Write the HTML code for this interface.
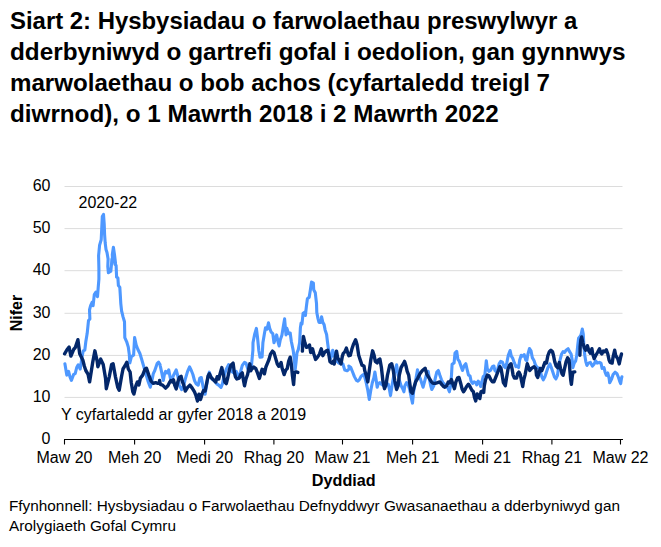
<!DOCTYPE html>
<html><head><meta charset="utf-8">
<style>
html,body{margin:0;padding:0;background:#fff;overflow:hidden;}
body{width:661px;height:547px;position:relative;overflow:hidden;font-family:"Liberation Sans",sans-serif;color:#000;}
.title{position:absolute;left:10.3px;top:6.4px;font-size:23.5px;font-weight:bold;line-height:31px;white-space:nowrap;}
.t{position:absolute;font-size:16px;line-height:18px;white-space:nowrap;}
.yl{position:absolute;font-size:16px;line-height:18px;width:40px;text-align:right;left:10.5px;}
.xl{position:absolute;font-size:16px;line-height:18px;width:80px;text-align:center;top:449px;}
svg{position:absolute;left:0;top:0;}
</style></head><body>
<div class="title"><div style="transform:scaleX(1.0171);transform-origin:0 0">Siart 2: Hysbysiadau o farwolaethau preswylwyr a</div><div style="transform:scaleX(1.0338);transform-origin:0 0">dderbyniwyd o gartrefi gofal i oedolion, gan gynnwys</div><div style="transform:scaleX(1.0261);transform-origin:0 0">marwolaethau o bob achos (cyfartaledd treigl 7</div><div style="transform:scaleX(1.031);transform-origin:0 0">diwrnod), o 1 Mawrth 2018 i 2 Mawrth 2022</div></div>
<svg width="661" height="547" viewBox="0 0 661 547">
<g stroke="#dcdcdc" stroke-width="1" fill="none">
<path d="M64.5 186.5H622.5M64.5 228.6H622.5M64.5 270.7H622.5M64.5 313.3H622.5M64.5 355.4H622.5M64.5 397.4H622.5"/>
</g>
<g stroke="#000" stroke-width="1.1" fill="none">
<path d="M64 439.5H623M64.5 439.5V444.6M134.6 439.5V444.6M204.6 439.5V444.6M273.9 439.5V444.6M342.5 439.5V444.6M412.6 439.5V444.6M482.6 439.5V444.6M551.9 439.5V444.6M620.5 439.5V444.6"/>
</g>
<g id="lines" fill="none" stroke-linejoin="round" stroke-linecap="round">
<path stroke="#4e98ff" stroke-width="3.1" d="M64.9 363.7 L66.8 375.1 L68.6 371.3 L69.9 376.6 L71.4 380.4 L73.7 374.3 L75.2 373.6 L76.7 367.5 L78.2 364.8 L80.2 369.0 L82.1 356.7 L83.2 350.8 L84.8 350.1 L85.8 341.8 L87.2 333.3 L88.5 320.6 L89.9 319.0 L89.5 310.0 L90.6 305.7 L92.3 302.0 L93.1 305.7 L94.3 294.6 L95.9 292.1 L97.5 296.7 L98.2 287.7 L98.9 279.2 L98.9 268.6 L98.6 255.7 L99.6 245.1 L101.2 239.8 L101.7 229.2 L102.3 216.5 L103.5 214.4 L104.2 223.9 L104.6 234.5 L105.2 243.0 L106.0 249.4 L107.0 252.5 L108.1 258.9 L107.8 266.5 L108.4 272.8 L110.8 271.3 L111.6 263.3 L111.9 259.1 L112.7 262.2 L112.3 254.7 L113.4 247.2 L114.5 254.7 L115.5 263.1 L115.0 264.4 L116.1 265.4 L116.6 277.1 L117.9 278.1 L118.4 285.6 L119.8 287.2 L120.3 295.1 L120.8 303.6 L121.6 311.0 L122.4 314.2 L122.9 316.4 L124.5 321.7 L124.8 337.6 L126.7 341.8 L128.3 347.1 L129.3 354.5 L129.8 363.0 L131.4 356.7 L133.6 355.1 L134.6 337.6 L136.2 345.0 L137.8 349.2 L139.9 353.5 L141.5 358.8 L148.0 381.1 L150.3 387.2 L151.8 381.1 L153.3 373.6 L154.8 370.5 L157.1 363.7 L158.6 362.2 L160.0 364.5 L160.3 366.1 L161.8 372.9 L163.3 380.5 L164.4 374.5 L165.6 371.4 L167.1 372.9 L168.7 369.9 L170.2 377.5 L171.4 381.3 L173.2 376.0 L174.7 372.9 L176.2 369.9 L177.8 376.0 L179.3 385.1 L181.6 389.6 L183.8 385.1 L185.3 379.0 L187.6 371.4 L189.6 366.9 L191.4 370.7 L192.9 374.5 L194.5 380.5 L196.0 383.6 L198.2 385.1 L199.8 378.2 L201.3 377.5 L202.8 385.1 L204.3 392.7 L205.1 394.2 L206.6 385.1 L208.1 376.0 L209.3 372.2 L211.9 379.0 L214.2 380.5 L216.5 383.6 L218.7 385.1 L221.0 387.4 L222.5 383.6 L224.0 376.0 L226.3 369.1 L228.6 364.6 L230.1 367.6 L231.6 371.4 L233.9 372.9 L236.2 371.4 L237.7 375.2 L239.2 376.0 L240.7 371.4 L242.3 365.3 L244.5 362.3 L246.0 363.1 L247.6 368.4 L249.1 371.4 L251.5 365.3 L252.9 350.2 L253.0 342.8 L254.6 334.5 L256.4 328.4 L257.6 338.3 L258.8 350.4 L260.0 357.3 L262.1 357.0 L262.9 342.8 L264.4 333.7 L265.5 327.7 L267.0 329.2 L268.5 322.8 L269.7 328.4 L271.2 332.2 L272.8 333.7 L274.0 342.8 L275.5 338.3 L276.6 334.9 L278.1 342.1 L279.1 345.9 L280.3 339.8 L281.9 335.3 L283.4 326.1 L284.6 318.9 L286.0 334.9 L286.9 328.4 L288.7 333.7 L290.2 333.0 L291.3 341.3 L293.2 350.4 L294.3 359.5 L295.2 369.3 L296.0 362.5 L297.0 352.6 L298.3 349.6 L299.6 342.8 L300.4 327.7 L301.1 323.1 L302.0 323.9 L303.1 313.2 L304.2 312.5 L305.4 315.5 L306.4 306.4 L307.4 298.8 L309.2 297.3 L310.4 289.7 L311.5 282.1 L313.4 283.2 L313.7 289.7 L315.3 292.8 L316.5 303.4 L316.8 312.5 L318.0 318.6 L319.0 322.4 L320.6 322.4 L321.6 316.7 L322.8 322.4 L324.1 324.6 L325.1 329.9 L326.6 334.5 L327.4 341.3 L328.6 350.4 L329.2 353.4 L330.4 358.7 L331.6 356.4 L332.7 350.3 L334.2 354.9 L336.5 361.0 L338.8 363.2 L341.0 362.5 L342.9 364.0 L344.8 370.1 L347.1 370.8 L349.4 368.6 L348.8 366.0 L350.8 367.5 L352.6 372.0 L354.4 376.6 L356.4 380.4 L357.9 381.1 L359.4 379.6 L360.9 376.6 L362.5 375.1 L364.0 374.3 L366.2 382.7 L367.8 390.3 L369.3 399.4 L370.8 390.3 L372.3 382.7 L373.8 378.1 L374.9 372.0 L376.1 379.6 L377.2 387.2 L378.4 383.4 L379.9 382.7 L381.4 384.2 L383.7 385.7 L386.0 385.7 L388.2 384.2 L389.3 388.7 L390.5 395.6 L392.0 385.7 L393.6 376.6 L395.1 370.5 L396.6 364.8 L398.1 375.1 L399.6 381.1 L401.1 385.7 L402.7 388.7 L403.9 391.8 L404.9 385.7 L406.5 382.7 L408.0 384.2 L409.5 388.7 L411.0 396.3 L412.5 403.1 L413.6 391.8 L414.8 385.7 L416.3 376.6 L417.5 369.8 L418.6 375.1 L420.1 378.1 L421.6 382.7 L423.1 387.2 L424.7 381.1 L426.2 375.1 L428.2 371.3 L429.2 378.1 L430.7 385.7 L431.8 389.5 L433.8 385.7 L435.3 378.1 L436.8 372.0 L438.3 370.5 L439.8 375.1 L441.4 379.6 L442.9 382.7 L444.4 384.2 L445.3 387.2 L447.6 387.2 L449.4 391.8 L450.6 385.7 L451.5 375.1 L452.1 364.2 L454.1 362.9 L455.0 353.1 L456.7 351.3 L457.9 359.4 L459.4 361.4 L460.9 366.0 L462.5 370.5 L464.0 366.0 L465.8 363.7 L467.0 369.0 L468.5 375.1 L470.0 375.8 L471.1 381.1 L472.6 383.4 L474.1 381.9 L475.7 382.7 L476.7 384.9 L478.2 381.1 L479.8 383.4 L480.7 386.5 L481.7 382.7 L483.2 376.6 L484.8 375.1 L485.5 369.0 L486.3 360.7 L487.3 369.0 L488.9 371.3 L490.4 370.5 L492.4 366.7 L493.9 366.0 L494.9 370.5 L496.4 372.0 L497.7 369.0 L499.2 363.7 L500.7 361.4 L502.5 362.2 L503.7 366.0 L505.3 367.5 L506.8 362.9 L508.3 355.3 L510.1 350.5 L511.3 356.1 L512.8 358.4 L514.4 362.9 L515.9 366.7 L517.4 366.0 L518.6 367.5 L519.7 359.9 L521.2 355.3 L522.7 356.1 L524.2 354.6 L525.7 359.9 L526.8 360.7 L528.0 353.8 L529.5 348.5 L531.0 350.8 L532.3 357.6 L534.1 360.7 L535.3 364.5 L537.1 367.5 L538.0 367.7 L539.6 368.4 L541.8 376.8 L543.3 379.8 L544.9 376.8 L546.4 372.2 L547.9 367.7 L549.9 363.9 L551.4 367.7 L552.9 372.2 L554.4 376.8 L555.9 379.0 L557.5 375.3 L558.5 367.7 L560.0 360.1 L561.6 354.0 L563.1 351.7 L564.6 352.5 L566.1 350.2 L568.1 348.7 L569.6 351.7 L571.1 354.0 L572.2 360.1 L572.9 367.7 L574.2 363.1 L575.7 360.8 L576.7 355.5 L577.8 344.9 L578.6 338.1 L579.8 336.6 L581.0 335.0 L582.3 329.0 L583.3 334.3 L583.9 346.4 L584.8 355.5 L585.8 361.6 L586.9 365.4 L588.4 363.1 L590.4 362.4 L592.4 366.1 L594.2 363.9 L595.7 360.8 L597.2 363.1 L599.5 362.4 L601.0 363.1 L602.1 368.4 L604.0 367.7 L605.1 372.2 L606.3 375.3 L607.8 373.0 L609.1 378.3 L609.7 382.8 L611.6 379.0 L613.1 374.5 L615.1 372.2 L616.9 373.7 L618.5 377.5 L619.7 381.3 L620.7 383.6 L621.5 378.3 L621.9 376.8"/>
<path stroke="#03276a" stroke-width="3.4" d="M64.6 353.8 L66.8 350.0 L69.1 347.0 L70.9 356.1 L73.7 349.3 L75.2 347.8 L77.9 339.7 L79.7 353.8 L82.8 359.9 L84.3 366.0 L85.8 370.5 L88.1 374.3 L89.6 381.9 L92.6 362.9 L94.9 350.8 L97.2 361.4 L97.9 366.7 L100.7 359.1 L103.2 364.5 L105.5 378.1 L106.3 388.7 L109.3 376.6 L111.6 364.5 L113.1 363.7 L115.4 376.6 L117.7 387.2 L119.2 390.3 L121.5 376.6 L123.0 369.0 L125.3 365.2 L126.8 362.2 L128.3 369.0 L130.1 372.0 L131.3 382.7 L132.8 391.8 L133.9 394.0 L135.9 385.7 L137.4 381.9 L138.9 384.9 L140.4 378.1 L142.7 375.1 L145.0 369.0 L146.5 368.2 L148.8 375.1 L151.0 381.1 L153.3 383.4 L155.6 382.7 L157.9 383.4 L160.0 382.7 L159.6 380.5 L160.3 384.3 L162.6 385.1 L164.1 386.6 L165.6 388.1 L167.9 385.8 L169.4 382.8 L170.9 380.5 L172.5 382.0 L173.5 379.8 L174.7 385.1 L176.2 388.9 L177.8 382.0 L179.3 377.5 L181.1 376.3 L182.3 381.3 L183.8 385.1 L185.3 391.1 L187.6 387.4 L189.9 385.1 L192.2 388.1 L194.5 391.9 L196.0 395.7 L197.5 401.0 L199.0 394.2 L199.8 394.9 L200.5 399.5 L202.3 393.4 L203.6 390.4 L205.1 391.1 L206.6 383.6 L208.1 376.0 L209.3 373.7 L211.1 377.5 L213.4 379.8 L215.7 382.0 L217.2 376.7 L218.7 379.0 L220.3 372.9 L221.8 367.6 L223.3 374.5 L224.8 382.0 L226.3 383.6 L227.8 377.5 L229.4 369.9 L230.9 365.3 L233.1 363.1 L234.2 371.4 L235.4 376.7 L236.9 379.0 L239.2 378.2 L240.7 374.5 L242.3 372.9 L243.5 380.5 L244.5 385.8 L246.0 379.0 L247.6 374.5 L248.8 368.4 L249.8 363.8 L250.9 370.7 L251.5 369.3 L253.8 367.0 L255.8 368.6 L257.6 373.1 L259.4 378.4 L260.9 373.1 L262.1 369.3 L263.7 370.1 L264.4 373.9 L265.9 367.0 L267.5 363.2 L269.0 359.5 L270.5 354.1 L272.5 351.1 L274.0 352.6 L275.5 357.9 L277.3 364.0 L278.8 366.3 L280.3 364.0 L281.1 362.5 L282.2 368.6 L284.1 374.6 L285.7 370.1 L287.2 368.6 L288.7 361.0 L290.2 357.2 L291.3 364.0 L292.5 376.1 L293.6 384.5 L294.5 372.4 L296.3 371.9 L297.8 372.4"/>
<path stroke="#03276a" stroke-width="3.4" d="M302.4 351.1 L302.8 342.8 L303.4 336.4 L304.9 342.8 L306.4 347.3 L308.4 346.6 L309.5 345.0 L310.7 352.6 L312.5 348.8 L313.7 353.4 L315.6 359.5 L317.5 357.2 L319.5 354.1 L321.3 348.8 L322.8 355.7 L324.4 352.6 L325.9 351.1 L327.7 350.3 L328.9 354.9 L330.0 361.7 L331.9 363.2 L333.5 361.0 L334.2 364.0 L335.4 356.4 L336.5 351.1 L337.7 357.9 L339.2 360.2 L341.0 364.0 L342.3 356.4 L343.3 353.4 L344.8 351.9 L346.4 348.1 L347.9 353.4 L348.9 355.7 L348.8 355.3 L350.3 355.3 L351.8 349.3 L353.3 344.7 L355.6 339.7 L357.1 344.7 L358.7 355.3 L360.2 359.9 L362.0 365.2 L364.0 366.0 L364.7 370.5 L366.2 375.1 L367.8 381.9 L369.3 370.5 L370.8 359.9 L372.6 350.8 L374.1 355.3 L375.3 361.4 L377.2 362.9 L378.4 359.9 L379.9 359.1 L381.4 367.5 L382.9 381.1 L384.5 388.7 L386.0 384.9 L387.5 375.1 L389.8 365.2 L391.7 363.7 L393.3 370.5 L394.8 381.1 L396.6 389.5 L398.1 385.7 L399.3 375.1 L401.1 367.5 L403.4 363.7 L404.6 361.4 L406.0 366.0 L407.2 371.3 L408.7 375.1 L409.9 384.2 L411.0 391.8 L412.5 393.3 L414.0 387.2 L415.6 381.9 L417.8 378.1 L420.1 373.6 L422.4 370.5 L425.1 368.2 L426.9 374.3 L429.2 378.1 L431.5 381.9 L433.0 383.4 L435.3 383.4 L437.6 382.7 L439.8 381.9 L442.1 384.9 L443.6 386.5 L444.6 387.2 L446.8 385.7 L448.3 381.9 L449.9 382.7 L451.4 379.6 L452.9 384.2 L454.4 388.7 L455.9 381.9 L457.5 378.1 L459.0 377.4 L460.5 382.7 L462.0 388.7 L463.5 391.8 L465.0 389.5 L466.6 386.5 L468.5 384.2 L470.3 387.2 L471.9 390.3 L473.4 391.8 L474.6 397.8 L475.7 400.9 L477.2 394.0 L478.7 396.3 L479.8 398.6 L481.0 391.8 L482.5 391.0 L483.7 392.5 L484.3 385.7 L485.5 379.6 L487.3 375.1 L488.9 375.8 L490.8 379.6 L492.4 381.9 L493.9 381.9 L495.4 378.1 L496.9 374.3 L498.4 370.5 L499.9 366.7 L501.0 368.2 L502.2 375.1 L503.4 382.7 L505.3 385.7 L506.5 378.1 L508.0 369.0 L509.5 365.2 L511.0 363.7 L512.1 369.0 L513.1 375.1 L514.4 378.1 L516.6 378.1 L517.7 373.6 L518.9 372.0 L520.4 375.1 L521.6 381.1 L522.7 386.5 L523.8 379.6 L525.0 375.1 L526.2 369.0 L527.3 363.7 L528.5 367.5 L529.8 370.5 L531.8 368.2 L534.1 366.7 L535.9 369.0 L536.5 375.3 L537.7 377.5 L539.2 372.2 L540.3 368.4 L541.8 370.7 L543.3 366.9 L544.9 362.4 L546.4 363.1 L547.9 355.5 L549.4 351.7 L550.9 350.2 L552.5 351.7 L553.5 355.5 L554.7 361.6 L556.2 366.1 L557.8 367.7 L559.3 362.4 L560.5 368.4 L562.0 373.7 L563.1 375.3 L564.6 368.4 L566.1 361.6 L567.6 357.8 L569.1 360.1 L569.9 370.7 L570.7 379.8 L571.4 384.4 L572.2 376.8 L572.9 372.2 L574.8 371.9"/>
<path stroke="#03276a" stroke-width="3.4" d="M579.9 355.2 L580.2 346.4 L580.8 340.3 L581.7 337.0 L582.8 342.6 L584.3 347.9 L585.8 350.2 L587.4 345.7 L588.9 351.0 L590.4 353.2 L591.9 348.7 L592.7 354.0 L594.2 358.6 L595.7 355.5 L597.5 352.5 L599.5 348.7 L600.6 352.5 L601.8 354.0 L603.3 351.0 L604.8 351.7 L606.3 349.8 L607.8 354.0 L609.1 360.1 L610.1 362.4 L612.1 363.1 L613.1 357.0 L614.7 350.2 L615.7 355.5 L617.7 358.6 L619.2 363.9 L620.7 357.0 L621.5 354.0"/>
</g>
</svg>
<div class="yl" style="top:176.8px">60</div>
<div class="yl" style="top:218.9px">50</div>
<div class="yl" style="top:261.0px">40</div>
<div class="yl" style="top:303.6px">30</div>
<div class="yl" style="top:345.7px">20</div>
<div class="yl" style="top:387.7px">10</div>
<div class="yl" style="top:429.8px">0</div>
<div class="xl" style="left:24.5px">Maw 20</div>
<div class="xl" style="left:94.6px">Meh 20</div>
<div class="xl" style="left:164.6px">Medi 20</div>
<div class="xl" style="left:233.9px">Rhag 20</div>
<div class="xl" style="left:302.5px">Maw 21</div>
<div class="xl" style="left:372.6px">Meh 21</div>
<div class="xl" style="left:442.6px">Medi 21</div>
<div class="xl" style="left:511.9px">Rhag 21</div>
<div class="xl" style="left:580.5px">Maw 22</div>
<div class="t" style="left:78.5px;top:194.4px">2020-22</div>
<div class="t" style="left:61px;top:406px">Y cyfartaledd ar gyfer 2018 a 2019</div>
<div class="t" style="left:311.8px;top:471.2px;font-weight:bold;font-size:16.2px">Dyddiad</div>
<div class="t" style="left:-8px;top:303.7px;font-weight:bold;transform:rotate(-90deg);transform-origin:center;width:50px;text-align:center">Nifer</div>
<div class="t" style="left:9px;top:495.8px;line-height:20px;font-size:15.34px">Ffynhonnell: Hysbysiadau o Farwolaethau Defnyddwyr Gwasanaethau a dderbyniwyd gan<br>Arolygiaeth Gofal Cymru</div>
</body></html>
